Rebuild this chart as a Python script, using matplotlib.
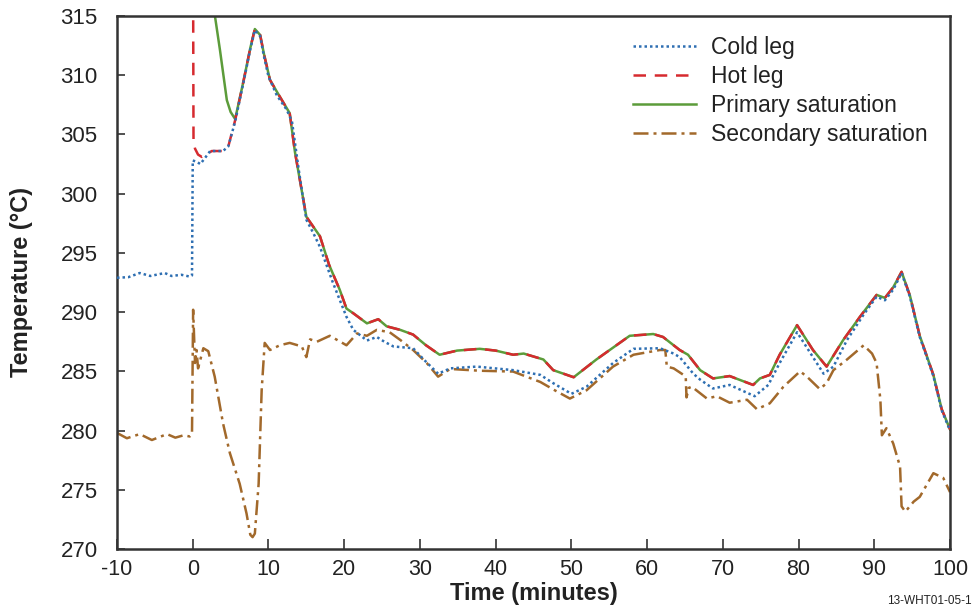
import matplotlib
matplotlib.use("Agg")
import matplotlib.pyplot as plt

# ---------------------------------------------------------------------------
# Data
# ---------------------------------------------------------------------------

cold_t = [-10, -8.5, -7, -5.6, -3.7, -2.8, -1.5, -0.4, -0.1, 0.0, 0.5, 1.0, 1.6,
          2.3, 4.0, 4.7, 5.6, 6.7, 7.6, 8.2, 8.9, 9.4, 10.0, 11.1, 12.4, 13.1,
          14.0, 15.0, 15.9, 16.8, 18.5, 20.3, 21.2, 23.0, 24.3, 25.3, 26.5,
          29.1, 30.5, 32.4, 34.0, 37.5, 42.3, 45.9, 47.6, 50.0, 52.0, 55.5,
          58.2, 61.7, 63.5, 64.3, 66.1, 67.0, 68.7, 70.9, 74.2, 76.0, 77.5,
          79.8, 81.9, 83.3, 84.6, 86.4, 88.6, 90.3, 91.4, 92.5, 93.6, 94.7,
          96.0, 97.8, 98.9, 100]
cold_temp = [292.9, 292.95, 293.3, 293.05, 293.3, 293.05, 293.15, 293.0, 293.1,
             302.8, 302.7, 302.5, 303.0, 303.6, 303.6, 304.0, 306.1, 309.4,
             312.2, 313.8, 313.3, 311.6, 309.9, 308.3, 307.1, 306.1, 302.0,
             297.8, 296.7, 295.5, 292.5, 289.6, 288.5, 287.6, 287.9, 287.5,
             287.1, 286.95, 286.0, 284.8, 285.25, 285.4, 285.1, 284.7, 284.0,
             283.1, 283.7, 285.7, 286.9, 286.95, 286.5, 286.2, 284.8, 284.3,
             283.55, 283.85, 282.9, 283.85, 285.7, 288.3, 286.2, 284.8, 285.4,
             287.65, 289.8, 291.3, 291.0, 291.9, 293.3, 291.3, 287.9, 284.6,
             281.7, 280.0]

hot_t = [0.0, 0.1, 0.3, 0.7, 1.2, 1.85, 2.5, 4.0, 4.7, 5.6, 6.7, 7.6, 8.2, 8.9,
         9.4, 10.2, 11.3, 12.8, 13.5, 15.0, 16.8, 18.0, 19.4, 20.3, 21.2, 23.0,
         24.5, 25.6, 27.4, 29.1, 30.8, 32.6, 34.9, 37.9, 40.0, 42.3, 43.7, 46.3,
         47.6, 50.3, 53.3, 57.7, 60.8, 62.1, 64.3, 65.4, 67.0, 68.7, 70.9, 74.0,
         74.9, 76.2, 77.5, 79.8, 81.9, 83.7, 85.9, 88.1, 90.3, 91.4, 92.5, 93.6,
         94.7, 96.0, 97.8, 98.9, 100]
hot_temp = [330.0, 304.4, 303.8, 303.3, 303.1, 303.3, 303.6, 303.6, 304.0, 306.2,
            309.5, 312.3, 313.9, 313.4, 311.8, 309.6, 308.4, 306.8, 303.5,
            298.05, 296.4, 294.0, 291.9, 290.3, 289.9, 289.05, 289.4, 288.8,
            288.5, 288.1, 287.2, 286.4, 286.75, 286.9, 286.75, 286.4, 286.5,
            286.0, 285.1, 284.5, 286.0, 288.0, 288.15, 287.9, 286.8, 286.4,
            285.1, 284.4, 284.6, 283.85, 284.4, 284.7, 286.4, 288.9, 286.8,
            285.4, 287.65, 289.6, 291.45, 291.2, 292.1, 293.4, 291.4, 288.0,
            284.7, 281.8, 280.1]

# primary saturation comes down from off-scale, then rides on the hot leg
psat_start_t = [2.7, 3.6, 4.5, 5.0, 5.6]
psat_start_temp = [316.0, 312.1, 307.9, 306.9, 306.3]

ssat_t = [-10, -8.7, -7.0, -5.4, -3.4, -2.3, -1.2, -0.4, -0.1, 0.05, 0.3, 0.5,
          0.7, 1.4, 2.05, 2.9, 4.0, 4.9, 6.2, 7.1, 7.6, 7.9, 8.2, 8.7, 9.1, 9.5,
          10.2, 11.5, 12.8, 14.4, 15.0, 15.5, 16.4, 18.1, 20.3, 21.7, 23.0,
          24.3, 26.0, 27.4, 29.1, 30.9, 32.4, 34.0, 37.9, 42.3, 45.9, 47.8,
          49.8, 52.0, 55.5, 58.2, 61.7, 62.4, 62.6, 63.5, 64.8, 65.1, 65.2,
          65.5, 65.9, 67.9, 69.2, 70.9, 73.2, 74.5, 76.2, 78.0, 80.2, 81.1,
          82.8, 83.7, 84.6, 86.4, 88.6, 89.7, 90.3, 90.8, 91.0, 91.6, 92.5,
          93.4, 93.6, 94.1, 95.2, 96.0, 97.8, 99.1, 100]
ssat_temp = [279.8, 279.35, 279.7, 279.2, 279.7, 279.4, 279.6, 279.5, 279.7,
             290.2, 285.7, 286.8, 285.25, 286.95, 286.7, 284.55, 280.6, 278.1,
             275.5, 273.0, 271.2, 271.0, 271.3, 275.5, 283.4, 287.4, 286.8,
             287.2, 287.4, 287.1, 286.2, 287.7, 287.5, 288.0, 287.2, 288.2,
             288.0, 288.5, 288.3, 287.65, 286.8, 285.7, 284.55, 285.2, 285.05,
             284.98, 284.1, 283.4, 282.7, 283.4, 285.4, 286.4, 286.8, 286.8,
             285.4, 285.25, 284.7, 284.5, 282.8, 283.6, 283.7, 282.7, 282.9,
             282.35, 282.6, 281.8, 282.3, 283.7, 285.0, 284.55, 283.5, 284.0,
             285.1, 286.0, 287.2, 286.5, 285.7, 282.6, 279.6, 280.2, 278.9,
             276.95, 273.6, 273.15, 274.0, 274.4, 276.4, 276.0, 274.8]

x_ticks = list(range(-10, 101, 10))
y_ticks = list(range(270, 316, 5))

# ---------------------------------------------------------------------------
# Plot
# ---------------------------------------------------------------------------

plt.rcParams["font.family"] = ["Liberation Sans", "DejaVu Sans"]

BLUE = "#2e6fb2"
RED = "#d62a2f"
GREEN = "#5c9c3a"
BROWN = "#a2692b"
SPINE = "#333333"
TEXT = "#222222"

psat_t = psat_start_t + [t for t in hot_t if t >= 6.7]
psat_temp = psat_start_temp + [v for t, v in zip(hot_t, hot_temp) if t >= 6.7]

fig = plt.figure(figsize=(9.76, 6.11), dpi=100)
ax = fig.add_axes([0.1199, 0.1015, 0.8535, 0.8723])

ax.plot(psat_t, psat_temp, color=GREEN, lw=1.8, ls="-", label="Primary saturation", zorder=2)
ax.plot(hot_t, hot_temp, color=RED, lw=1.8, ls=(0, (5, 3.5)), label="Hot leg", zorder=3)
ax.plot(cold_t, cold_temp, color=BLUE, lw=1.8, ls=(0, (1, 1.2)), label="Cold leg", zorder=4)
ax.plot(ssat_t, ssat_temp, color=BROWN, lw=1.8, ls=(0, (6, 2, 1.2, 2)),
        label="Secondary saturation", zorder=2)

ax.set_xlim(-10, 100)
ax.set_ylim(270, 315)
ax.set_xticks(x_ticks)
ax.set_yticks(y_ticks)
ax.set_xticklabels([str(t) for t in x_ticks], fontsize=15.5)
ax.set_yticklabels([str(t) for t in y_ticks], fontsize=16)

ax.tick_params(axis="both", direction="in", color=SPINE, width=1.2, labelcolor=TEXT)
ax.tick_params(axis="y", length=6, pad=14)
ax.tick_params(axis="x", length=7, pad=7)
for side in ax.spines.values():
    side.set_color(SPINE)
    side.set_linewidth(1.8)

ax.set_xlabel("Time (minutes)", fontsize=17, fontweight="bold", labelpad=2, color=TEXT)
ax.set_ylabel("Temperature (°C)", fontsize=17, fontweight="bold", labelpad=20, color=TEXT)

handles, labels = ax.get_legend_handles_labels()
order = [labels.index(n) for n in ["Cold leg", "Hot leg", "Primary saturation", "Secondary saturation"]]
leg = ax.legend([handles[i] for i in order], [labels[i] for i in order],
                loc="upper left", bbox_to_anchor=(0.608, 0.98), frameon=False,
                fontsize=16.5, handlelength=2.75, handletextpad=0.65, labelspacing=0.26,
                borderaxespad=0.2, borderpad=0.2)
for txt in leg.get_texts():
    txt.set_color(TEXT)

fig.text(0.996, 0.006, "13-WHT01-05-1", ha="right", va="bottom", fontsize=8.5, color=TEXT)

fig.savefig("out.png", dpi=100)
